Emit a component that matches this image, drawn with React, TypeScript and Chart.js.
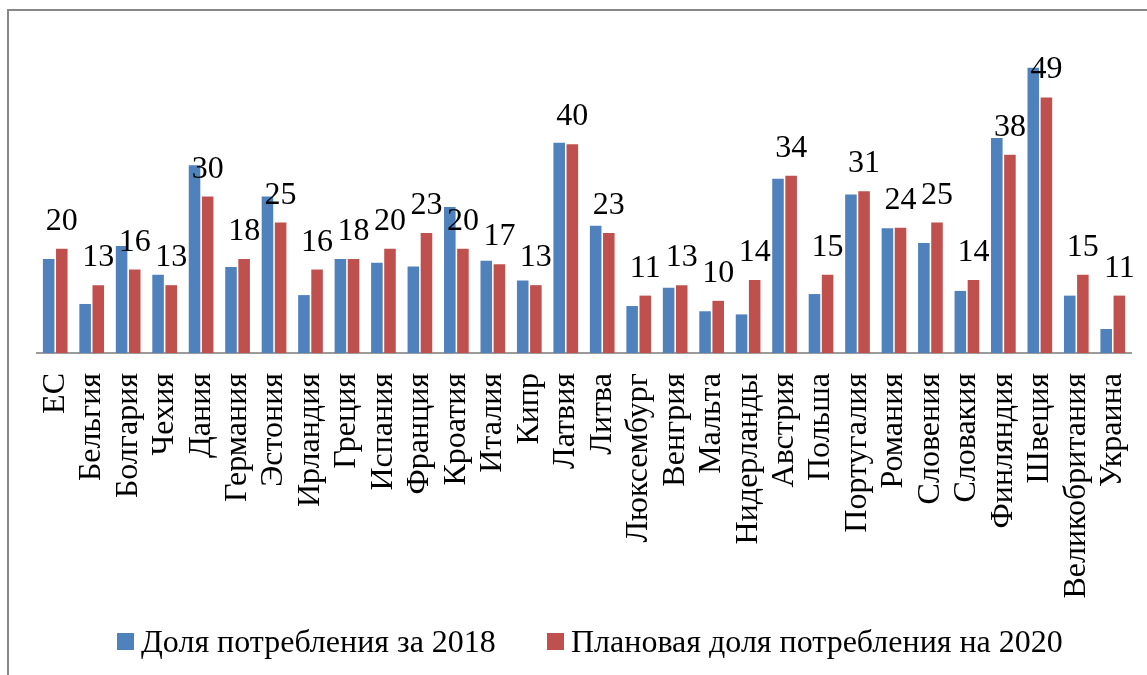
import React, { useEffect, useRef } from "react";
import { Chart, registerables } from "chart.js";

Chart.register(...registerables);

const categories = [
  "ЕС", "Бельгия", "Болгария", "Чехия", "Дания", "Германия", "Эстония", "Ирландия",
  "Греция", "Испания", "Франция", "Кроатия", "Италия", "Кипр", "Латвия", "Литва",
  "Люксембург", "Венгрия", "Мальта", "Нидерланды", "Австрия", "Польша", "Португалия",
  "Романия", "Словения", "Словакия", "Финляндия", "Швеция", "Великобритания", "Украина",
];

const share2018 = [
  18.0, 9.4, 20.5, 15.0, 36.0, 16.5, 30.0, 11.1, 18.0, 17.3, 16.6, 28.0, 17.7, 13.9,
  40.3, 24.4, 9.0, 12.5, 8.0, 7.4, 33.4, 11.3, 30.4, 23.9, 21.1, 11.9, 41.2, 54.7,
  11.0, 4.6,
];

const target2020 = [
  20, 13, 16, 13, 30, 18, 25, 16, 18, 20, 23, 20, 17, 13, 40, 23, 11, 13, 10, 14,
  34, 15, 31, 24, 25, 14, 38, 49, 15, 11,
];

const seriesNames = ["Доля потребления за 2018", "Плановая доля потребления на 2020"];
const seriesColors = ["#4F81BD", "#C0504D"];

const FONT = '"Liberation Serif", "Times New Roman", serif';
const FONT_SIZE = 32;

const valueLabels = {
  id: "valueLabels",
  afterDatasetsDraw(chart: any) {
    const ctx = chart.ctx;
    const meta = chart.getDatasetMeta(1);
    ctx.save();
    ctx.font = `${FONT_SIZE}px ${FONT}`;
    ctx.fillStyle = "#000";
    ctx.textAlign = "center";
    ctx.textBaseline = "alphabetic";
    meta.data.forEach((bar: any, i: number) => {
      ctx.fillText(String(target2020[i]), bar.x, bar.y - 19);
    });
    ctx.restore();
  },
};

export default function App() {
  const canvasRef = useRef<HTMLCanvasElement | null>(null);

  useEffect(() => {
    if (!canvasRef.current) return;
    const chart = new Chart(canvasRef.current, {
      type: "bar",
      data: {
        labels: categories,
        datasets: [
          {
            label: seriesNames[0],
            data: share2018,
            backgroundColor: seriesColors[0],
            categoryPercentage: 0.72,
            barPercentage: 0.88,
          },
          {
            label: seriesNames[1],
            data: target2020,
            backgroundColor: seriesColors[1],
            categoryPercentage: 0.72,
            barPercentage: 0.88,
          },
        ],
      },
      options: {
        animation: false,
        responsive: false,
        maintainAspectRatio: false,
        layout: { padding: { left: 37, right: 16, top: 40, bottom: 0 } },
        plugins: {
          legend: { display: false },
          tooltip: { enabled: false },
        },
        scales: {
          x: {
            grid: { display: false, drawTicks: false },
            border: { display: true, color: "#9B9B9B", width: 2 },
            ticks: {
              autoSkip: false,
              minRotation: 90,
              maxRotation: 90,
              padding: 20,
              color: "#000",
              font: { family: FONT, size: FONT_SIZE },
            },
            afterFit: (scale: any) => {
              scale.height = 322;
              scale.paddingLeft = 0;
              scale.paddingRight = 0;
            },
          },
          y: {
            display: false,
            min: 0,
            max: 60,
          },
        },
      },
      plugins: [valueLabels],
    });
    return () => chart.destroy();
  }, []);

  const legendItem = (i: number, left: number) => (
    <div
      style={{
        position: "absolute",
        left,
        top: 624,
        height: 34,
        display: "flex",
        alignItems: "center",
        whiteSpace: "nowrap",
      }}
    >
      <span
        style={{
          display: "inline-block",
          width: 17,
          height: 17,
          background: seriesColors[i],
          marginRight: 7,
        }}
      />
      <span style={{ fontFamily: FONT, fontSize: FONT_SIZE, color: "#000", lineHeight: "34px" }}>
        {seriesNames[i]}
      </span>
    </div>
  );

  return (
    <div style={{ position: "fixed", left: 0, top: 0, width: 1147, height: 675, background: "#fff" }}>
      <div
        style={{
          position: "absolute",
          left: 7,
          top: 9,
          width: 1140,
          height: 666,
          boxSizing: "border-box",
          borderLeft: "2px solid #878787",
          borderTop: "2px solid #878787",
        }}
      />
      <canvas
        ref={canvasRef}
        width={1147}
        height={675}
        style={{ position: "absolute", left: 0, top: 0, width: 1147, height: 675 }}
      />
      {legendItem(0, 117)}
      {legendItem(1, 547)}
    </div>
  );
}
